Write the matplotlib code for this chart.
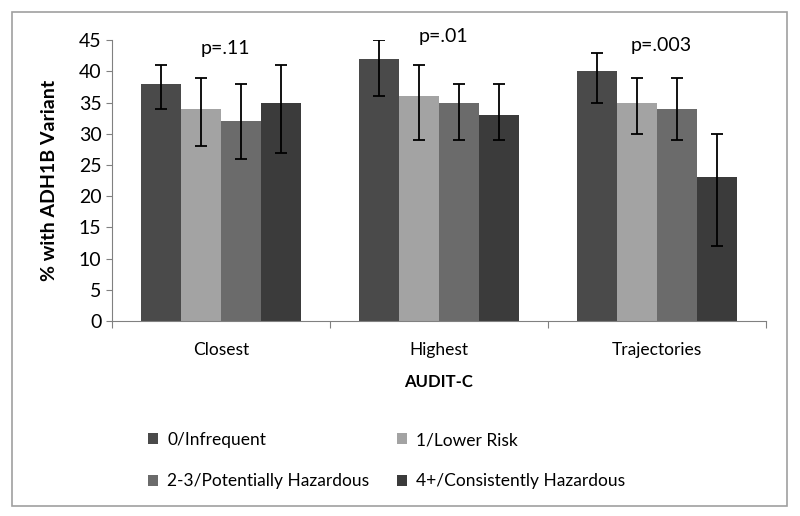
import matplotlib
matplotlib.use("Agg")
import matplotlib.pyplot as plt
import numpy as np
from matplotlib.patches import Rectangle

plt.rcParams["font.family"] = ["Lato", "DejaVu Sans"]

# data
categories = ["Closest", "Highest", "Trajectories"]
series_names = ["0/Infrequent", "1/Lower Risk",
                "2-3/Potentially Hazardous", "4+/Consistently Hazardous"]
values = {
    "0/Infrequent": [38, 42, 40],
    "1/Lower Risk": [34, 36, 35],
    "2-3/Potentially Hazardous": [32, 35, 34],
    "4+/Consistently Hazardous": [35, 33, 23],
}
err_low = {
    "0/Infrequent": [34, 36, 35],
    "1/Lower Risk": [28, 29, 30],
    "2-3/Potentially Hazardous": [26, 29, 29],
    "4+/Consistently Hazardous": [27, 29, 12],
}
err_high = {
    "0/Infrequent": [41, 45, 43],
    "1/Lower Risk": [39, 41, 39],
    "2-3/Potentially Hazardous": [38, 38, 39],
    "4+/Consistently Hazardous": [41, 38, 30],
}
p_labels = ["p=.11", "p=.01", "p=.003"]
p_heights = [43.6, 45.6, 44.1]

colors = ["#4a4a4a", "#a3a3a3", "#6b6b6b", "#3b3b3b"]

fig = plt.figure(figsize=(8, 5.16), dpi=100)
ax = fig.add_axes([0.14, 0.378, 0.8175, 0.544])

# outer chart frame (Excel style)
fig.patches.append(Rectangle((12 / 800, 1 - 506 / 516), 775 / 800, 494 / 516,
                             transform=fig.transFigure, fill=False,
                             edgecolor="#a0a0a0", linewidth=1.2))

x = np.arange(len(categories))
width = 0.73 / 4
handles = []
for i, name in enumerate(series_names):
    vals = np.array(values[name])
    lo = vals - np.array(err_low[name])
    hi = np.array(err_high[name]) - vals
    pos = x - 0.73 / 2 + width * (i + 0.5)
    b = ax.bar(pos, vals, width, color=colors[i], label=name, zorder=2)
    handles.append(b)
    ax.errorbar(pos, vals, yerr=[lo, hi], fmt="none", ecolor="black",
                elinewidth=1.3, capsize=4.5, capthick=1.3, zorder=3)

for i, (lab, h) in enumerate(zip(p_labels, p_heights)):
    ax.text(x[i] + 0.02, h, lab, ha="center", va="center", fontsize=14)

ax.set_xlim(-0.5, 2.5)
ax.set_ylim(0, 45)
ax.set_yticks(range(0, 46, 5))
ax.tick_params(axis="y", labelsize=14, length=4, color="#808080")
ax.set_xticks([-0.5, 0.5, 1.5, 2.5])
ax.set_xticklabels([])
ax.set_xticks(x, minor=True)
ax.set_xticklabels(categories, minor=True, fontsize=12.5)
ax.tick_params(axis="x", which="major", length=5, color="#808080")
ax.tick_params(axis="x", which="minor", length=0, pad=15)

for s in ["top", "right"]:
    ax.spines[s].set_visible(False)
ax.spines["left"].set_color("#808080")
ax.spines["bottom"].set_color("#808080")

ax.set_ylabel("% with ADH1B Variant", fontsize=14, fontweight="bold", labelpad=15)
ax.set_xlabel("AUDIT-C", fontsize=12, fontweight="bold", labelpad=12)

# matplotlib fills legend columns first, so reorder to get row-wise layout
order = [0, 2, 1, 3]
fig.legend([handles[k] for k in order], [series_names[k] for k in order],
           loc="upper left", bbox_to_anchor=(148 / 800, 1 - 432 / 516), ncol=2,
           frameon=False, fontsize=12.5, handlelength=0.6, handleheight=0.6,
           columnspacing=1.6, labelspacing=1.45, handletextpad=0.5,
           borderpad=0, borderaxespad=0)

fig.savefig("out.png", dpi=100)
